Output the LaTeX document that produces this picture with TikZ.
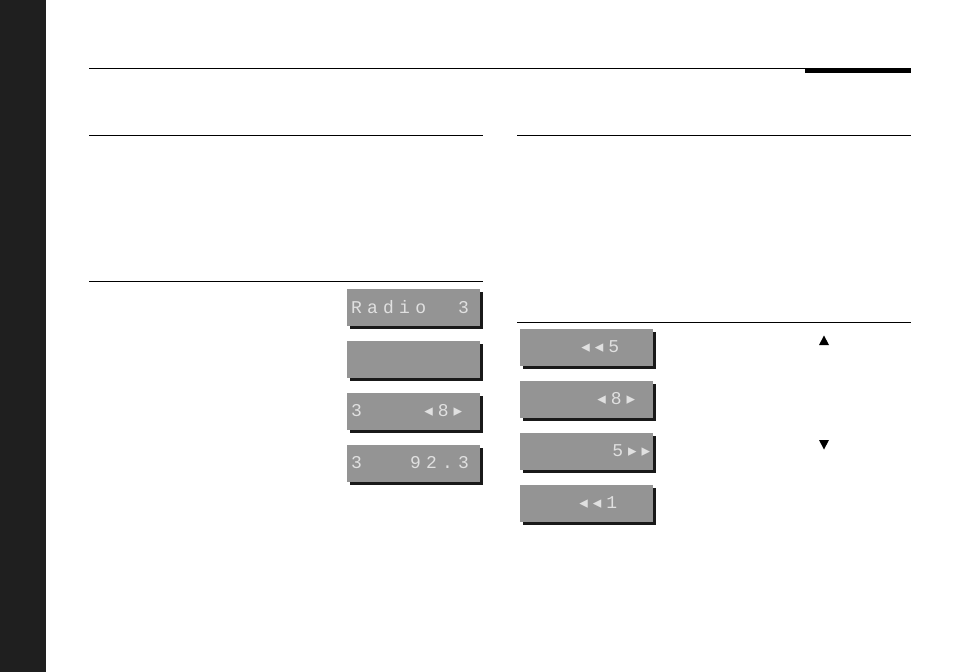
\documentclass[tikz,border=0pt]{standalone}
\usepackage{fontspec}
\setmonofont{Liberation Mono}[LetterSpace=29]
\newfontfamily\symf{DejaVu Sans}
\begin{document}
\begin{tikzpicture}[x=1pt,y=-1pt,
  disp/.style={fill=black!42,minimum width=133pt,minimum height=37pt,inner sep=3pt},
  dtxt/.style={font=\ttfamily\fontsize{18}{18}\selectfont,text=black!12,inner sep=0pt},
  rule/.style={line width=0.8pt}]
\useasboundingbox (0,0) rectangle (954,672);
\fill[black!88] (0,0) rectangle (46,672);
\draw[rule] (89,68) -- (911,68);
\fill (805,68) rectangle (911,72.5);
\draw[rule] (89,135) -- (483,135);
\draw[rule] (517,135) -- (911,135);
\draw[rule] (89,281) -- (483,281);
\draw[rule] (517,322) -- (911,322);
\newcommand\dispbox[3]{%
  \fill[black!90] (#2+3,#3+3) rectangle (#2+136,#3+40);
  \node[disp,anchor=north west] (#1) at (#2,#3) {};}
\newcommand\lmk{{\symf\fontsize{17}{17}\selectfont◂}\hspace{5pt}}
\newcommand\rmk{\hspace{5pt}{\symf\fontsize{17}{17}\selectfont▸}}
\dispbox{d1}{347}{289}
\node[dtxt,anchor=west] (t1) at ([xshift=4pt,yshift=1pt]d1.west) {Radio\ \ 3};
\dispbox{d2}{347}{341}
\dispbox{d3}{347}{393}
\node[dtxt,anchor=west] (t3a) at ([xshift=4pt,yshift=1pt]d3.west) {3};
\node[dtxt,anchor=east] (t3b) at ([xshift=-18pt,yshift=1pt]d3.east) {\lmk8\rmk};
\dispbox{d4}{347}{445}
\node[dtxt,anchor=west] (t4) at ([xshift=4pt,yshift=1pt]d4.west) {3\ \ \ 92.3};
\dispbox{e1}{520}{329}
\node[dtxt,anchor=east] (u1) at ([xshift=-34pt,yshift=1pt]e1.east) {\lmk\lmk5};
\dispbox{e2}{520}{381}
\node[dtxt,anchor=east] (u2) at ([xshift=-18pt,yshift=1pt]e2.east) {\lmk8\rmk};
\dispbox{e3}{520}{433}
\node[dtxt,anchor=east] (u3) at ([xshift=-3pt,yshift=1pt]e3.east) {5\rmk\rmk};
\dispbox{e4}{520}{485}
\node[dtxt,anchor=east] (u4) at ([xshift=-36pt,yshift=1pt]e4.east) {\lmk\lmk1};
\fill (819,345) -- (829,345) -- (824,335.5) -- cycle;
\fill (819,440) -- (829,440) -- (824,449.5) -- cycle;
\end{tikzpicture}
\end{document}
